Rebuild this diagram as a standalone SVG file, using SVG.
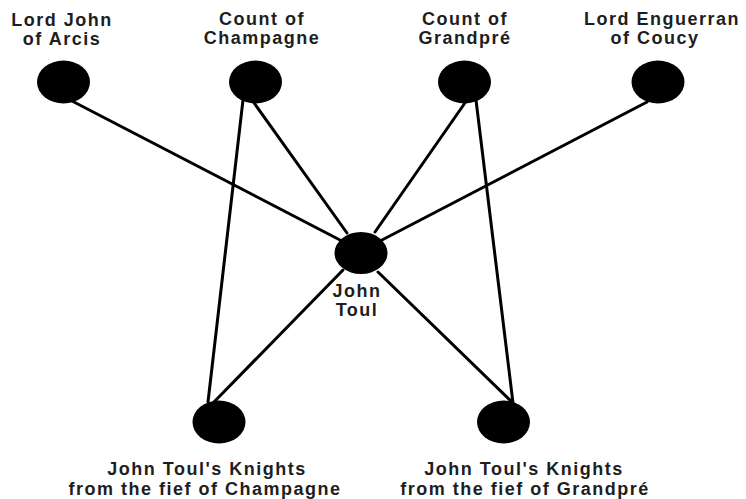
<svg xmlns="http://www.w3.org/2000/svg" width="746" height="499" viewBox="0 0 746 499">
<style>
.edge{stroke:#000;stroke-width:3;fill:none;stroke-linecap:round}
.node{fill:#000}
.lbl{font-family:"Liberation Sans",Arial,sans-serif;font-weight:bold;font-size:18px;letter-spacing:1.5px;fill:#1e1e1e;text-anchor:middle}
</style>
<rect width="746" height="499" fill="#fff"/>
<g id="connectors">
<line class="edge" x1="72" y1="101" x2="340" y2="240"/>
<line class="edge" x1="252" y1="100" x2="347" y2="233"/>
<line class="edge" x1="243" y1="100" x2="208" y2="402"/>
<line class="edge" x1="467" y1="100" x2="375" y2="232"/>
<line class="edge" x1="476" y1="100" x2="513" y2="403"/>
<line class="edge" x1="647" y1="102" x2="382" y2="240"/>
<line class="edge" x1="343" y1="270" x2="213" y2="403"/>
<line class="edge" x1="378" y1="272" x2="513" y2="403"/>
</g>
<g id="arcis">
<ellipse class="node" cx="63.5" cy="82" rx="26.5" ry="21.5"/>
<text class="lbl" x="62" y="26">Lord John</text>
<text class="lbl" x="62" y="45">of Arcis</text>
</g>
<g id="champagne">
<ellipse class="node" cx="255.5" cy="82" rx="26.5" ry="21.5"/>
<text class="lbl" x="262" y="25">Count of</text>
<text class="lbl" x="262" y="44">Champagne</text>
</g>
<g id="grandpre">
<ellipse class="node" cx="464.5" cy="82" rx="26.5" ry="21.5"/>
<text class="lbl" x="465" y="25">Count of</text>
<text class="lbl" x="465" y="44">Grandpré</text>
</g>
<g id="coucy">
<ellipse class="node" cx="658" cy="82" rx="26.5" ry="21.5"/>
<text class="lbl" x="662" y="25">Lord Enguerran</text>
<text class="lbl" x="655" y="44">of Coucy</text>
</g>
<g id="toul">
<ellipse class="node" cx="361" cy="253" rx="26.5" ry="21"/>
<text class="lbl" x="357" y="297">John</text>
<text class="lbl" x="357" y="316">Toul</text>
</g>
<g id="knights-champagne">
<ellipse class="node" cx="219" cy="422" rx="26.5" ry="21.5"/>
<text class="lbl" x="207" y="475">John Toul's Knights</text>
<text class="lbl" x="205" y="495">from the fief of Champagne</text>
</g>
<g id="knights-grandpre">
<ellipse class="node" cx="503.5" cy="422" rx="26.5" ry="21.5"/>
<text class="lbl" x="524" y="475">John Toul's Knights</text>
<text class="lbl" x="525" y="495">from the fief of Grandpré</text>
</g>
</svg>
